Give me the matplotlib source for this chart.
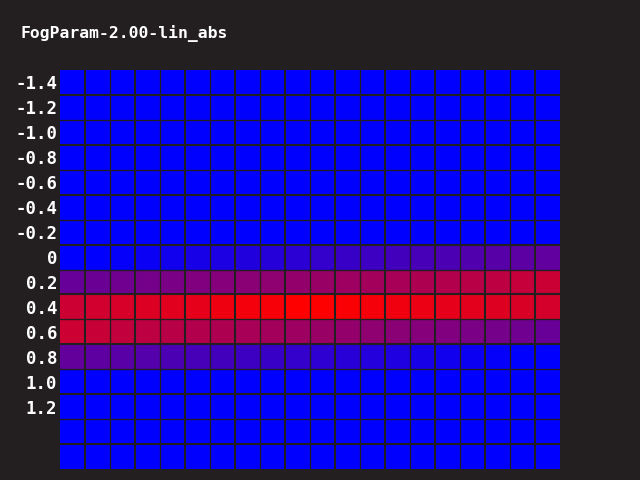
import numpy as np
import matplotlib.pyplot as plt
from matplotlib.colors import LinearSegmentedColormap

# Заголовок и подписи строк
title = "FogParam-2.00-lin_abs"
row_labels = ["-1.4", "-1.2", "-1.0", "-0.8", "-0.6", "-0.4", "-0.2",
              "0", "0.2", "0.4", "0.6", "0.8", "1.0", "1.2"]
n_rows = 16
n_cols = 20

# Значения (0 = синий, 1 = красный) для ненулевых строк
row_0 = [0, 0, 0.02, 0.04, 0.07, 0.09, 0.11, 0.13, 0.15, 0.17,
         0.2, 0.22, 0.24, 0.26, 0.28, 0.3, 0.32, 0.34, 0.36, 0.38]
row_02 = [0.4, 0.42, 0.44, 0.46, 0.48, 0.5, 0.52, 0.54, 0.56, 0.58,
          0.6, 0.62, 0.64, 0.66, 0.68, 0.7, 0.72, 0.74, 0.77, 0.79]
row_04 = [0.8, 0.82, 0.84, 0.86, 0.88, 0.9, 0.93, 0.95, 0.97, 1.0,
          1.0, 0.98, 0.96, 0.94, 0.92, 0.9, 0.89, 0.87, 0.85, 0.83]
row_06 = [0.8, 0.78, 0.76, 0.74, 0.72, 0.7, 0.68, 0.66, 0.64, 0.62,
          0.6, 0.58, 0.56, 0.54, 0.52, 0.5, 0.48, 0.46, 0.44, 0.41]
row_08 = [0.39, 0.37, 0.35, 0.33, 0.3, 0.28, 0.26, 0.24, 0.22, 0.2,
          0.18, 0.16, 0.14, 0.12, 0.09, 0.07, 0.05, 0.02, 0, 0]

grid = np.zeros((n_rows, n_cols))
grid[7] = row_0
grid[8] = row_02
grid[9] = row_04
grid[10] = row_06
grid[11] = row_08

bg = "#231f20"
cmap = LinearSegmentedColormap.from_list("blue_red", ["#0000ff", "#ff0000"])

fig = plt.figure(figsize=(6.4, 4.8), dpi=100, facecolor=bg)
ax = fig.add_axes([60 / 640, 1 - 469 / 480, 500 / 640, 399 / 480])
ax.set_facecolor(bg)

ax.pcolormesh(grid, cmap=cmap, vmin=0, vmax=1)
ax.set_xlim(0, n_cols)
ax.set_ylim(n_rows, 0)

# Тонкие линии на каждой клетке, толстые — через одну
for x in range(1, n_cols):
    ax.axvline(x, color=bg, linewidth=1.5 if x % 2 else 0.95)
for y in range(1, n_rows):
    ax.axhline(y, color=bg, linewidth=1.5 if y % 2 else 0.95)

ax.set_xticks([])
ax.set_yticks(np.arange(len(row_labels)) + 0.5)
ax.set_yticklabels(row_labels, color="white", fontsize=12.5,
                   family="DejaVu Sans Mono", fontweight="bold")
ax.tick_params(axis="y", length=0, pad=2)
for s in ax.spines.values():
    s.set_visible(False)

fig.text(20 / 640, 1 - 34 / 480, title, color="white", fontsize=11.8,
         family="DejaVu Sans Mono", fontweight="bold", va="center", ha="left")

fig.savefig("out.png", dpi=100, facecolor=bg)
